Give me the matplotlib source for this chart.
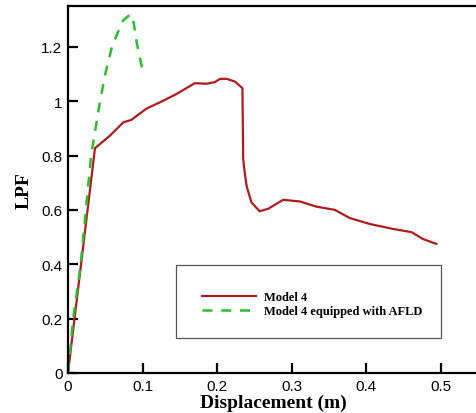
import matplotlib
matplotlib.use("Agg")
import matplotlib.pyplot as plt
from matplotlib.lines import Line2D
from matplotlib.patches import Rectangle

# load-proportionality factor vs. displacement
model4_disp = [0.0, 0.0362, 0.0563, 0.0742, 0.085, 0.105, 0.128, 0.146, 0.170,
               0.186, 0.197, 0.204, 0.213, 0.224, 0.231, 0.234, 0.235, 0.236,
               0.2395, 0.246, 0.257, 0.2685, 0.2886, 0.311, 0.333, 0.358,
               0.378, 0.405, 0.436, 0.461, 0.476, 0.494]
model4_lpf = [0.0, 0.827, 0.873, 0.922, 0.931, 0.972, 1.002, 1.027, 1.066,
              1.064, 1.070, 1.082, 1.082, 1.072, 1.055, 1.048, 0.788, 0.760,
              0.689, 0.628, 0.595, 0.604, 0.637, 0.631, 0.612, 0.600,
              0.570, 0.548, 0.530, 0.518, 0.493, 0.475]

afld_disp = [0.0, 0.007, 0.017, 0.024, 0.031, 0.043, 0.050, 0.059, 0.067,
             0.074, 0.084, 0.088, 0.092, 0.101]
afld_lpf = [0.0, 0.2, 0.4, 0.6, 0.8, 1.0, 1.1, 1.2, 1.254,
            1.297, 1.32, 1.29, 1.218, 1.10]

labels = ["Model 4", "Model 4 equipped with AFLD"]
RED, GREEN = "#B01C1C", "#2DBE2D"

plt.rcParams.update({
    "font.family": "Liberation Sans",
    "xtick.direction": "in", "ytick.direction": "in",
    "axes.linewidth": 1.6,
})

fig = plt.figure(figsize=(4.76, 4.14), dpi=100)
ax = fig.add_axes([68 / 476, 40 / 414, 410 / 476, 367 / 414])

ax.plot(model4_disp, model4_lpf, color=RED, lw=1.6)
ax.plot(afld_disp, afld_lpf, color=GREEN, lw=1.8, ls=(0, (4, 3.5)))

ax.set_xlim(0, 0.55)
ax.set_ylim(0, 1.35)
ax.set_xticks([0, 0.1, 0.2, 0.3, 0.4, 0.5])
ax.set_xticklabels(["0", "0.1", "0.2", "0.3", "0.4", "0.5"])
ax.set_yticks([0, 0.2, 0.4, 0.6, 0.8, 1.0, 1.2])
ax.set_yticklabels(["0", "0.2", "0.4", "0.6", "0.8", "1", "1.2"])
ax.tick_params(length=7, width=1.6, labelsize=11, pad=4)
ax.spines["right"].set_visible(False)

ax.set_xlabel("Displacement (m)", family="Liberation Serif", weight="bold",
              fontsize=14, labelpad=1)
ax.set_ylabel("LPF", family="Liberation Serif", weight="bold",
              fontsize=14, labelpad=6)

# framed legend box with entries in its lower half
x0, x1 = (176 - 68) / 410, (441 - 68) / 410
y0, y1 = (374 - 339) / 367, (374 - 266) / 367
ax.add_patch(Rectangle((x0, y0), x1 - x0, y1 - y0, transform=ax.transAxes,
                       facecolor="white", edgecolor="#555555", lw=0.9, zorder=3))
handles = [Line2D([], [], color=RED, lw=1.6),
           Line2D([], [], color=GREEN, lw=1.8, ls=(0, (4, 3.5)))]
leg = ax.legend(handles, labels, loc="center left",
                bbox_to_anchor=((196 - 68) / 410, (374 - 305) / 367),
                frameon=False, handlelength=4.3, handletextpad=0.6,
                labelspacing=0.15, borderpad=0,
                prop={"family": "Liberation Serif", "weight": "bold", "size": 9})
leg.set_zorder(4)

fig.savefig("out.png", dpi=100)
